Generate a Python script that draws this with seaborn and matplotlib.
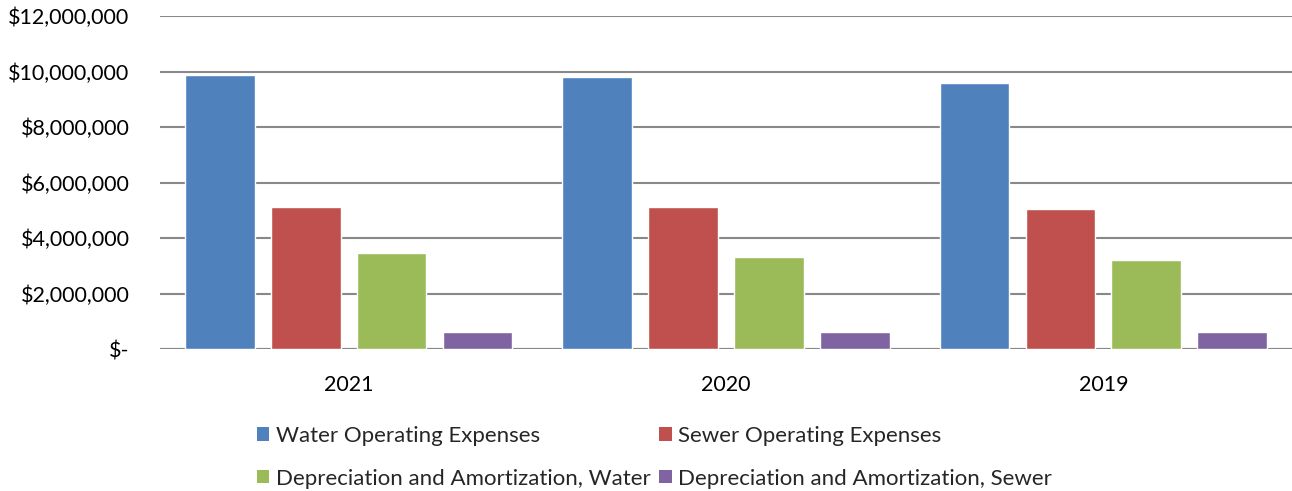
import matplotlib
matplotlib.use("Agg")
import matplotlib.pyplot as plt
import seaborn as sns
import pandas as pd
from matplotlib.ticker import FuncFormatter
from matplotlib.patches import Patch

years = ["2021", "2020", "2019"]
series = ["Water Operating Expenses", "Sewer Operating Expenses",
          "Depreciation and Amortization, Water", "Depreciation and Amortization, Sewer"]
water_op = [9870000, 9790000, 9600000]
sewer_op = [5110000, 5110000, 5030000]
dep_water = [3450000, 3320000, 3200000]
dep_sewer = [610000, 610000, 610000]
colors = ["#4F81BD", "#C0504D", "#9BBB59", "#8064A2"]

rows = []
for name, vals in zip(series, [water_op, sewer_op, dep_water, dep_sewer]):
    for y, v in zip(years, vals):
        rows.append({"Year": y, "Series": name, "Value": v})
df = pd.DataFrame(rows)

sns.set_theme(style="white")
plt.rcParams["font.family"] = ["Lato", "DejaVu Sans"]

fig = plt.figure(figsize=(12.92, 4.91), dpi=100)
ax = fig.add_axes([160/1292, 1 - 349/491, 1132/1292, (349-16)/491])

sns.barplot(data=df, x="Year", y="Value", hue="Series", order=years, hue_order=series,
            palette=colors, width=0.91, gap=0.19, ax=ax, legend=False, saturation=1,
            errorbar=None)

ax.set_xlim(-0.5, 2.5)
ax.set_ylim(0, 12000000)
ax.set_yticks(range(0, 12000001, 2000000))
ax.yaxis.set_major_formatter(FuncFormatter(lambda v, p: "$-" if v == 0 else f"${v:,.0f}"))
ax.yaxis.grid(True, color="#888888", linewidth=1.5)
ax.set_axisbelow(True)
for s in ax.spines.values():
    s.set_visible(False)
ax.axhline(0, color="#888888", linewidth=1.5, zorder=0)
ax.set_xlabel("")
ax.set_ylabel("")
ax.tick_params(axis="both", length=0, labelsize=15.5, colors="#000000")
ax.tick_params(axis="y", pad=22)
ax.tick_params(axis="x", pad=19)

handles = [Patch(facecolor=c, edgecolor="none") for c in colors]
order = [0, 2, 1, 3]
fig.legend([handles[i] for i in order], [series[i] for i in order],
           loc="upper left", bbox_to_anchor=(248/1292, 1 - 417/491), ncol=2, frameon=False,
           fontsize=16, handlelength=0.55, handleheight=0.55, handletextpad=0.3,
           columnspacing=0.4, labelspacing=1.02, borderaxespad=0)

fig.savefig("out.png", dpi=100)
